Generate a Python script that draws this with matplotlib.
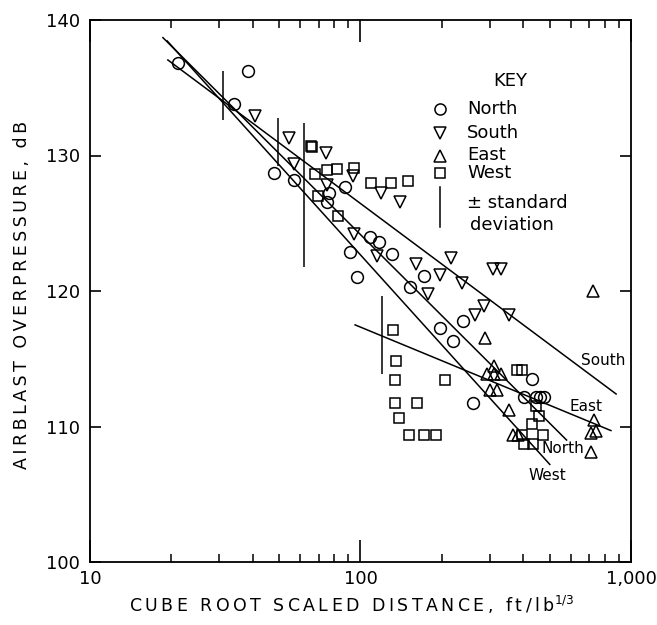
import matplotlib
matplotlib.use('Agg')
import matplotlib.pyplot as plt
from matplotlib.ticker import FixedLocator, FixedFormatter, LogLocator, NullFormatter, NullLocator

# data (x: ft/lb^1/3, y: dB)
north_x = [21.1, 38.4, 34.2, 47.7, 56.8, 87.3, 76.5, 75.5, 108, 117, 91.4, 131,
           96.8, 172, 152, 240, 196, 219, 430, 260, 403, 446, 462, 477]
north_y = [136.8, 136.2, 133.8, 128.7, 128.2, 127.7, 127.2, 126.6, 124.0, 123.6, 122.9, 122.7,
           121.0, 121.1, 120.3, 117.8, 117.3, 116.3, 113.5, 111.7, 112.2, 112.2, 112.2, 112.2]

south_x = [40.7, 54.6, 56.8, 74.4, 94.2, 75.5, 119, 140, 94.9, 115,
           216, 160, 197, 238, 177, 310, 332, 286, 265, 355]
south_y = [132.9, 131.3, 129.4, 130.2, 128.5, 127.8, 127.2, 126.6, 124.2, 122.6,
           122.4, 122.0, 121.2, 120.6, 119.8, 121.6, 121.6, 118.9, 118.2, 118.2]

east_x = [288, 312, 293, 312, 330, 301, 319, 355, 367, 381, 725, 730, 710, 740, 710]
east_y = [116.5, 114.5, 113.9, 113.9, 113.9, 112.7, 112.7, 111.2, 109.4, 109.4,
          120.0, 110.5, 109.5, 109.7, 108.1]

west_x = [65.5, 66.3, 67.9, 75.0, 81.8, 94.4, 109, 130, 150, 69.7, 82.8, 132, 135, 134, 206,
          134, 162, 139, 151, 172, 190, 378, 394, 444, 458, 432, 397, 471, 403, 433]
west_y = [130.7, 130.6, 128.6, 128.9, 129.0, 129.1, 128.0, 128.0, 128.1, 127.0, 125.5, 117.1,
          114.8, 113.4, 113.4, 111.7, 111.7, 110.6, 109.4, 109.4, 109.4, 114.2, 114.2, 111.5,
          110.8, 110.2, 109.4, 109.4, 108.7, 108.7]

# fitted lines (end points)
fit_names = ['North', 'South', 'East', 'West']
fit_x0 = [18.6, 19.4, 95.5, 19.3]
fit_y0 = [138.7, 137.05, 117.5, 138.45]
fit_x1 = [578, 881, 843, 501]
fit_y1 = [109.0, 112.4, 109.7, 107.2]
label_x = [560, 790, 682, 492]
label_y = [108.4, 114.9, 111.5, 106.4]

# +/- standard deviation bars
std_x = [30.9, 49.7, 61.9, 119.6]
std_lo = [132.6, 129.2, 121.8, 113.9]
std_hi = [136.2, 132.8, 132.4, 119.6]


def spaced(s):
    # old lettering-guide look: a thin space between letters
    return '\u2009'.join(s)


fig = plt.figure(figsize=(6.57, 6.25), dpi=100)
ax = fig.add_axes([0.137, 0.1008, 0.8234, 0.8672])
ax.set_xscale('log')
ax.set_xlim(10, 1000)
ax.set_ylim(100, 140)

lw = 1.1
mk = dict(ls='none', mfc='none', mec='black', mew=1.1, zorder=3, clip_on=False)
ax.plot(north_x, north_y, marker='o', ms=8.5, **mk)
ax.plot(south_x, south_y, marker='v', ms=9, **mk)
ax.plot(east_x, east_y, marker='^', ms=9, **mk)
ax.plot(west_x, west_y, marker='s', ms=7.3, **mk)

for i in range(len(fit_names)):
    ax.plot([fit_x0[i], fit_x1[i]], [fit_y0[i], fit_y1[i]], color='black', lw=lw)
    ax.text(label_x[i], label_y[i], fit_names[i], fontsize=11, ha='center', va='center')

ax.vlines(std_x, std_lo, std_hi, color='black', lw=lw)

# key
kx, tx = 0.647, 0.697
ax.text(0.776, 0.888, 'KEY', transform=ax.transAxes, ha='center', va='center', fontsize=13)
key = [('North', 'o', 8, 0.836), ('South', 'v', 8.5, 0.791),
       ('East', '^', 8.5, 0.750), ('West', 's', 7, 0.717)]
for name, m, s, yy in key:
    ax.plot([kx], [yy], marker=m, ms=s, transform=ax.transAxes, **mk)
    ax.text(tx, yy, name, transform=ax.transAxes, ha='left', va='center', fontsize=13)
ax.plot([kx, kx], [0.619, 0.692], transform=ax.transAxes, color='black', lw=lw)
ax.text(tx, 0.662, '± standard', transform=ax.transAxes, ha='left', va='center', fontsize=13)
ax.text(tx + 0.005, 0.622, 'deviation', transform=ax.transAxes, ha='left', va='center', fontsize=13)

# axes styling
for sp in ax.spines.values():
    sp.set_linewidth(1.3)
ax.xaxis.set_major_locator(FixedLocator([10, 100, 1000]))
ax.xaxis.set_major_formatter(FixedFormatter(['10', '100', '1,000']))
ax.xaxis.set_minor_locator(LogLocator(base=10, subs=range(2, 10)))
ax.xaxis.set_minor_formatter(NullFormatter())
ax.set_yticks([100, 110, 120, 130, 140])
ax.yaxis.set_minor_locator(NullLocator())
ax.tick_params(axis='both', which='both', direction='in', top=True, right=True, labelsize=13)
ax.tick_params(axis='x', which='major', length=16, width=1.2, pad=6)
ax.tick_params(axis='x', which='minor', length=6, width=1.1)
ax.tick_params(axis='y', which='major', length=8, width=1.2, pad=7)

fig.text(22 / 657, 1 - 295 / 625, spaced('AIRBLAST OVERPRESSURE, dB'), rotation=90,
         ha='center', va='center', fontsize=12.5)
fig.text(352 / 657, 1 - 605 / 625, spaced('CUBE ROOT SCALED DISTANCE, ft/lb') + '$^{1/3}$',
         ha='center', va='center', fontsize=12.5)

fig.savefig('out.png', dpi=100)
